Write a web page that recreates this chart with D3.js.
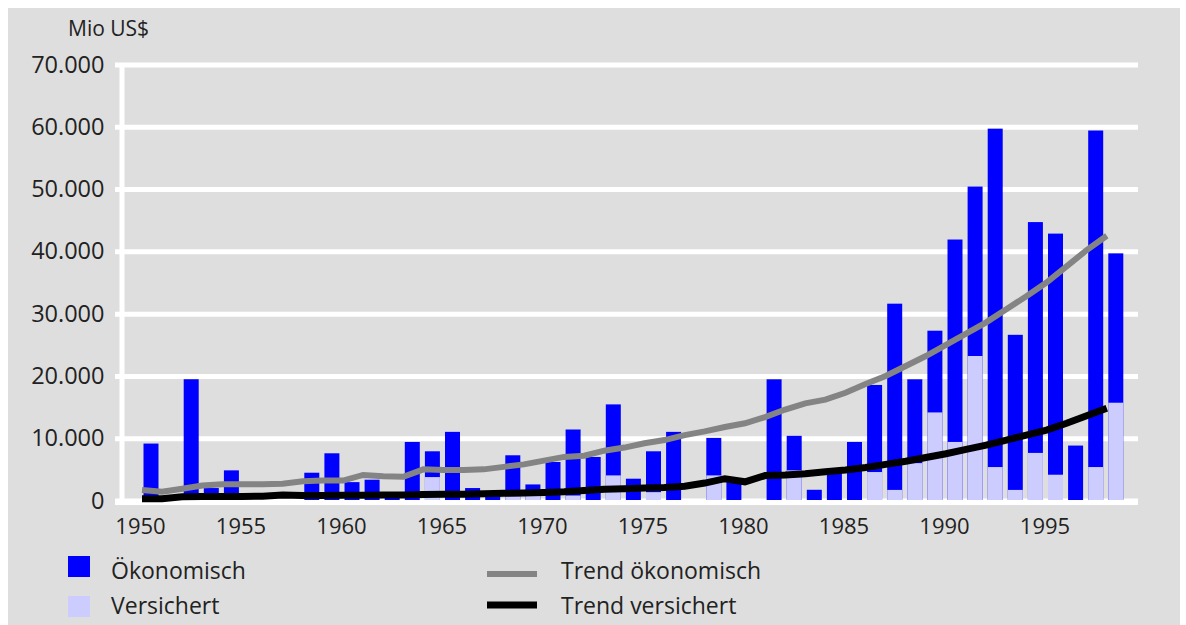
<!DOCTYPE html>
<html><head><meta charset="utf-8">
<script src="https://cdn.jsdelivr.net/npm/d3@7"></script>
<style>
body{margin:0;background:#fff;}
svg{display:block;font-family:"Open Sans",sans-serif;}
</style>
</head><body>
<script>
const years = [1950,1951,1952,1953,1954,1955,1956,1957,1958,1959,
  1960,1961,1962,1963,1964,1965,1966,1967,1968,1969,
  1970,1971,1972,1973,1974,1975,1976,1977,1978,1979,
  1980,1981,1982,1983,1984,1985,1986,1987,1988,1989,
  1990,1991,1992,1993,1994,1995,1996,1997,1998];
const economic = [9140,0,19470,2000,4840,0,0,0,4460,7580,
  2950,3340,1000,9400,7900,11020,2000,800,7260,2580,
  6180,11400,6990,15430,3500,7900,11020,0,10050,2950,
  0,19460,10380,1720,4950,9400,18550,31600,19460,27260,
  41900,50400,59700,26600,44700,42850,8820,59400,39680];
const insured = [0,0,0,0,0,0,0,0,0,0,
  0,0,0,0,3760,0,0,0,700,1000,
  0,800,0,4030,0,1340,0,0,4030,0,
  0,0,4840,0,0,0,4570,1700,6000,14140,
  9400,23200,5370,1700,7640,4140,0,5370,15700];
const trendEconomic = [1700,1400,1900,2400,2600,2600,2600,2700,3100,3200,
  3200,4100,3900,3800,5000,4900,4900,5000,5400,5800,
  6400,7000,7200,8000,8500,9200,9700,10500,11100,11800,
  12400,13400,14600,15600,16200,17300,18700,20000,21600,23200,
  25000,26800,28600,30700,32800,35000,37600,40200,42500];
const trendInsured = [300,300,600,650,650,650,700,900,800,800,
  850,850,900,900,950,1000,1000,1100,1150,1200,
  1300,1400,1600,1800,1900,2000,2100,2300,2800,3500,
  3000,4000,4100,4300,4600,4900,5300,5800,6300,6900,
  7500,8200,8900,9700,10500,11300,12400,13600,14800];
const yTicks = [0,10000,20000,30000,40000,50000,60000,70000];
const xTickYears = [1950,1955,1960,1965,1970,1975,1980,1985,1990,1995];
const unitLabel = "Mio US$";
const legendBars = ["Ökonomisch","Versichert"];
const legendLines = ["Trend ökonomisch","Trend versichert"];

const W = 1186, H = 625;
const C = {bg:"#dedede", econ:"#0000ff", ins:"#ccccff", tEcon:"#848484", tIns:"#000000", text:"#222"};

const svg = d3.select("body").append("svg").attr("width", W).attr("height", H);
svg.append("rect").attr("x", 8).attr("y", 8).attr("width", 1172).attr("height", 617).attr("fill", C.bg);

const x = d3.scaleLinear().domain([1950, 1999]).range([140, 140 + 49 * 20.1]);
const y = d3.scaleLinear().domain([0, 70000]).range([500.5, 64.5]);
const gridRight = 1138, axisX = 121.5;

const fmt = d => d3.format(",")(d).replace(/,/g, ".");

// y axis with gridlines
const gy = svg.append("g").attr("transform", `translate(${axisX},0)`)
  .call(d3.axisLeft(y).tickValues(yTicks).tickSize(-(gridRight - axisX)).tickSizeOuter(0).tickPadding(17).tickFormat(fmt));
gy.selectAll(".tick line").attr("x1", -6.5).attr("stroke", "#fff").attr("stroke-width", 5);
gy.select(".domain").attr("stroke", "#fff").attr("stroke-width", 5);
gy.selectAll(".tick text").attr("fill", C.text).style("font-size", "23.5px").style("font-family", "'Open Sans',sans-serif");

// x axis labels
const gx = svg.append("g").attr("transform", `translate(0,${y(0)})`)
  .call(d3.axisBottom(x).tickValues(xTickYears).tickSize(0).tickPadding(18).tickFormat(d3.format("d")));
gx.select(".domain").remove();
gx.selectAll(".tick text").attr("fill", C.text).style("font-size", "22px").style("font-family", "'Open Sans',sans-serif");

// bars
const barOff = 3.5, barW = 15;
svg.append("g").selectAll("rect").data(years).join("rect")
  .attr("x", d => x(d) + barOff).attr("width", barW)
  .attr("y", (d, i) => y(economic[i])).attr("height", (d, i) => y(0) - y(economic[i]))
  .attr("fill", C.econ);
svg.append("g").selectAll("rect").data(years).join("rect")
  .attr("x", d => x(d) + barOff).attr("width", barW)
  .attr("y", (d, i) => y(insured[i])).attr("height", (d, i) => y(0) - y(insured[i]))
  .attr("fill", C.ins);

// zero line on top of bars
svg.append("line").attr("x1", axisX - 6.5).attr("x2", gridRight)
  .attr("y1", y(0) + 2).attr("y2", y(0) + 2).attr("stroke", "#fff").attr("stroke-width", 5);

// trend lines
const line = arr => d3.line().x((d, i) => x(years[i]) + 2).y(d => y(d))(arr);
svg.append("path").attr("d", line(trendEconomic)).attr("fill", "none").attr("stroke", C.tEcon).attr("stroke-width", 6);
svg.append("path").attr("d", line(trendInsured)).attr("fill", "none").attr("stroke", C.tIns).attr("stroke-width", 7);

// unit label
svg.append("text").attr("x", 68).attr("y", 36).text(unitLabel)
  .attr("fill", C.text).style("font-size", "21px");

// legend
const lg = svg.append("g").style("font-size", "23px").attr("fill", C.text);
[C.econ, C.ins].forEach((c, i) => {
  lg.append("rect").attr("x", 68).attr("y", 556 + i * 40).attr("width", 22).attr("height", 21).attr("fill", c);
  lg.append("text").attr("x", 111).attr("y", 579 + i * 35).text(legendBars[i]);
});
[[C.tEcon, 6], [C.tIns, 7]].forEach((c, i) => {
  lg.append("line").attr("x1", 487).attr("x2", 537).attr("y1", 574 + i * 31).attr("y2", 574 + i * 31)
    .attr("stroke", c[0]).attr("stroke-width", c[1]);
  lg.append("text").attr("x", 561).attr("y", 579 + i * 35).text(legendLines[i]);
});
</script>
</body></html>
